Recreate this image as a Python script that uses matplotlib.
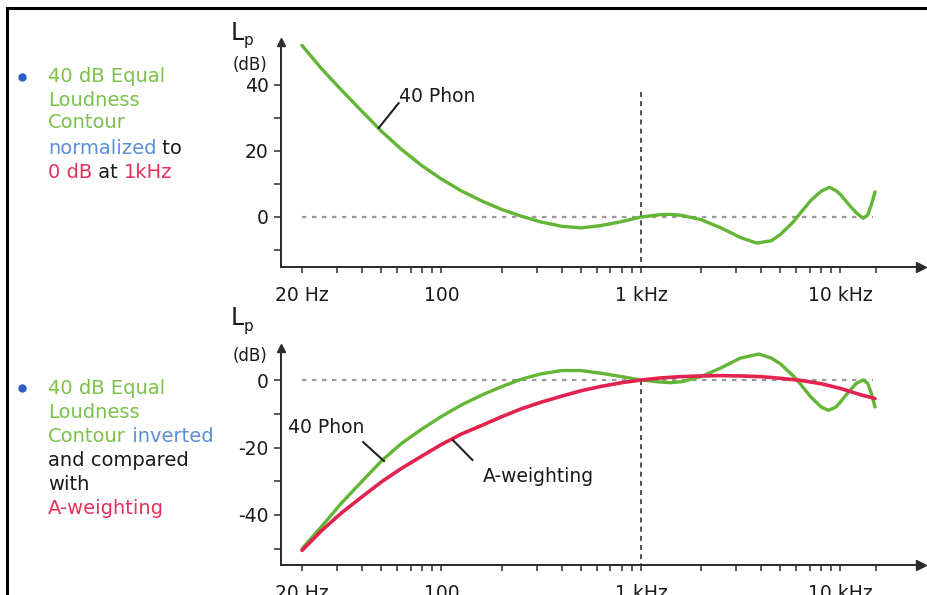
import numpy as np
import matplotlib
matplotlib.use('Agg')
import matplotlib.pyplot as plt
from matplotlib.lines import Line2D

W, H = 927, 595
plt.rcParams['font.family'] = ['DejaVu Sans']

# ---- data ----
top_freq = [20, 25, 31.5, 40, 50, 63, 80, 100, 125, 160, 200, 250, 315, 400, 500,
            630, 800, 1000, 1250, 1400, 1600, 2000, 2500, 3150, 3800, 4500, 5000,
            5800, 6300, 7100, 8000, 8800, 9500, 10000, 11000, 12000, 13000, 13700,
            14300, 14900]
top_db = [52, 45, 38.5, 32, 26, 20.5, 15.5, 11.5, 8, 4.8, 2.3, 0.3, -1.5, -2.8, -3.3,
          -2.6, -1.4, 0, 0.7, 0.8, 0.5, -0.8, -3.2, -6.2, -7.9, -7.2, -5.3,
          -1.5, 1.2, 5, 7.8, 9.0, 8, 6.8, 3.8, 1.3, -0.4, 0.6,
          3.8, 7.6]

bot_freq = [20, 25, 31.5, 40, 50, 63, 80, 100, 125, 160, 200, 250, 315, 400, 500,
            630, 800, 1000, 1250, 1400, 1600, 2000, 2500, 3150, 3900, 4500, 5000,
            5800, 6300, 7100, 8000, 8700, 9500, 10000, 11000, 12000, 13000, 13700,
            14300, 14900]
bot_green_db = [-50, -43.5, -36.5, -30, -24, -18.8, -14.5, -10.8, -7.5, -4.4, -2.0, 0.2, 1.8, 2.8, 2.8,
                2, 1, 0, -0.6, -0.8, -0.5, 1, 3.5, 6.5, 7.7, 6.5, 4.8,
                1.2, -1.2, -5, -8, -9, -8, -6.5, -3.5, -1, 0, -1,
                -4, -8]

aw_freq = [20, 25, 31.5, 40, 50, 63, 80, 100, 125, 160, 200, 250, 315, 400, 500, 630,
           800, 1000, 1250, 1600, 2000, 2500, 3150, 4000, 5000, 6300, 8000, 10000,
           12500, 14900]
aw_db = [-50.5, -44.7, -39.4, -34.6, -30.2, -26.2, -22.5, -19.1, -16.1, -13.4, -10.9,
         -8.6, -6.6, -4.8, -3.2, -1.9, -0.8, 0, 0.6, 1.0, 1.2, 1.3, 1.2, 1.0, 0.5,
         -0.1, -1.1, -2.5, -4.3, -5.5]

major_ticks = [20, 100, 1000, 10000]
major_labels = ['20 Hz', '100', '1 kHz', '10 kHz']
minor_ticks = [30, 40, 50, 60, 70, 80, 90, 200, 300, 400, 500, 600, 700, 800, 900,
               2000, 3000, 4000, 5000, 6000, 7000, 8000, 9000, 15000]

top_yticks = [-10, 0, 10, 20, 30, 40]
top_ylabels = ['', '0', '', '20', '', '40']
bot_yticks = [-50, -40, -30, -20, -10, 0]
bot_ylabels = ['', '-40', '', '-20', '', '0']

# ---- styling ----
GREEN = '#63b535'
RED = '#e2224f'
TXT_GREEN = '#7bc24a'
TXT_BLUE = '#5b8ed8'
TXT_RED = '#e6305a'
BULLET = '#2c5cc4'
AX = '#2b2b2b'
FS = 13.5

fig = plt.figure(figsize=(W / 100, H / 100), dpi=100)
fig.patch.set_facecolor('white')


def fx(px):
    return px / W


def fy(py):
    return 1 - py / H


PX_PER_DEC = 199.5
X20 = 302
xlo = 10 ** (np.log10(20) + (281 - X20) / PX_PER_DEC)
xhi = 10 ** (np.log10(20) + (921 - X20) / PX_PER_DEC)


def setup(ax, ylim, yticks, ylabels):
    ax.set_xscale('log')
    ax.set_xlim(xlo, xhi)
    ax.set_ylim(*ylim)
    for s in ['top', 'right']:
        ax.spines[s].set_visible(False)
    for s in ['left', 'bottom']:
        ax.spines[s].set_color(AX)
        ax.spines[s].set_linewidth(1.4)
    ax.set_xticks(major_ticks)
    ax.set_xticklabels(major_labels)
    ax.set_xticks(minor_ticks, minor=True)
    ax.xaxis.set_minor_formatter(matplotlib.ticker.NullFormatter())
    ax.set_yticks(yticks)
    ax.set_yticklabels(ylabels)
    ax.tick_params(axis='x', which='both', direction='out', length=4, width=1.1,
                   color=AX, labelsize=FS, pad=10, labelcolor='#1a1a1a')
    ax.tick_params(axis='y', which='both', direction='out', length=5, width=1.1,
                   color=AX, labelsize=FS, pad=4, labelcolor='#1a1a1a')
    ax.plot([1], [0], marker='>', ms=7, color=AX, transform=ax.transAxes, clip_on=False)
    ax.plot([0], [1], marker='^', ms=6, color=AX, transform=ax.transAxes, clip_on=False)
    ax.patch.set_alpha(0)


# top axes: y_px = 217 - 3.3*dB
ax1 = fig.add_axes([fx(281), fy(267), (921 - 281) / W, (267 - 42) / H])
setup(ax1, ((217 - 267) / 3.3, (217 - 42) / 3.3), top_yticks, top_ylabels)
ax1.plot([20, 14500], [0, 0], color='#9a9a9a', lw=1.6, ls=(0, (2, 2.5)))
ax1.plot([1000, 1000], [(217 - 92) / 3.3, (217 - 267) / 3.3], color='#333333', lw=1.2,
         ls=(0, (3, 2.5)))
ax1.plot(top_freq, top_db, color=GREEN, lw=2.4, solid_capstyle='round', solid_joinstyle='round')
ax1.plot([61, 48.5], [34.5, 27.0], color='#222222', lw=1.5)
ax1.text(95, 36.4, '40 Phon', fontsize=FS, color='#1a1a1a', ha='center', va='center')

# bottom axes: y_px = 380 - 3.375*dB
ax2 = fig.add_axes([fx(281), fy(565), (921 - 281) / W, (565 - 348) / H])
setup(ax2, ((380 - 565) / 3.375, (380 - 348) / 3.375), bot_yticks, bot_ylabels)
ax2.plot([20, 14500], [0, 0], color='#9a9a9a', lw=1.6, ls=(0, (2, 2.5)))
ax2.plot([1000, 1000], [0, (380 - 565) / 3.375], color='#333333', lw=1.2, ls=(0, (3, 2.5)))
ax2.plot(bot_freq, bot_green_db, color=GREEN, lw=2.4, solid_capstyle='round', solid_joinstyle='round')
ax2.plot(aw_freq, aw_db, color=RED, lw=2.6, solid_capstyle='round', solid_joinstyle='round')
ax2.plot([40.5, 51.5], [-18.4, -24.0], color='#222222', lw=1.5)
ax2.text(26.5, -14.2, '40 Phon', fontsize=FS, color='#1a1a1a', ha='center', va='center')
ax2.plot([114, 143], [-17.8, -23.7], color='#222222', lw=1.5)
ax2.text(305, -28.7, 'A-weighting', fontsize=FS, color='#1a1a1a', ha='center', va='center')

# axis titles "Lp (dB)"
for ly, dy in [(33, 65), (318, 356)]:
    fig.text(fx(231), fy(ly), 'L', fontsize=17, color='#1a1a1a', ha='left', va='center')
    fig.text(fx(244), fy(ly + 8), 'p', fontsize=11, color='#1a1a1a', ha='left', va='center')
    fig.text(fx(250), fy(dy), '(dB)', fontsize=12, color='#1a1a1a', ha='center', va='center')

# left-hand rich text
renderer = fig.canvas.get_renderer()


def rich(x_px, y_px, parts):
    x = x_px
    for s, c in parts:
        t = fig.text(fx(x), fy(y_px), s, color=c, fontsize=14, ha='left', va='center')
        bb = t.get_window_extent(renderer=renderer)
        x += bb.width


for by in (77, 388):
    fig.add_artist(Line2D([fx(22)], [fy(by)], marker='o', ms=5, color=BULLET, lw=0))

rich(48, 77, [('40 dB Equal', TXT_GREEN)])
rich(48, 100, [('Loudness', TXT_GREEN)])
rich(48, 123, [('Contour', TXT_GREEN)])
rich(48, 148, [('normalized', TXT_BLUE), (' to', '#1a1a1a')])
rich(48, 172, [('0 dB', TXT_RED), (' at ', '#1a1a1a'), ('1kHz', TXT_RED)])

rich(48, 388, [('40 dB Equal', TXT_GREEN)])
rich(48, 412, [('Loudness', TXT_GREEN)])
rich(48, 436, [('Contour', TXT_GREEN), (' inverted', TXT_BLUE)])
rich(48, 461, [('and compared', '#1a1a1a')])
rich(48, 484, [('with', '#1a1a1a')])
rich(48, 509, [('A-weighting', TXT_RED)])

# frame of the slide
fig.add_artist(Line2D([fx(7), 1.0], [fy(8), fy(8)], color='black', lw=2.2))
fig.add_artist(Line2D([fx(7), fx(7)], [fy(8), 0.0], color='black', lw=2.2))

fig.savefig('out.png', dpi=100)
